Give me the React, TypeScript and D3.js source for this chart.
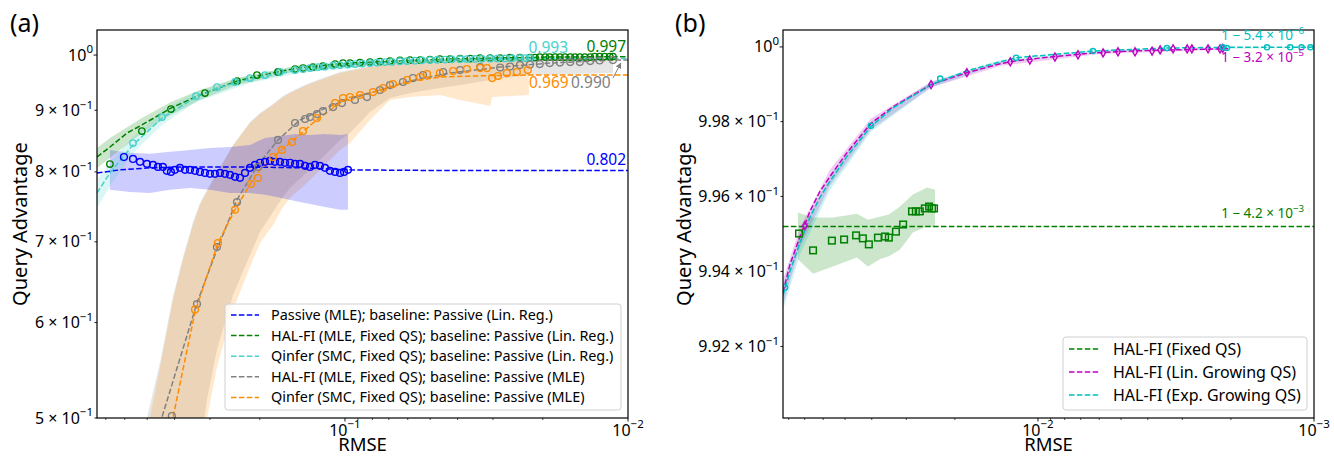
import React from "react";
import * as d3 from "d3";

type P = [number, number];
type B = [number, number, number];

// ================= Panel (a): RMSE vs Query Advantage =================
const passiveMle: P[] = [
  [0.604, 0.823], [0.561, 0.820], [0.530, 0.8155], [0.501, 0.8124], [0.477, 0.8108], [0.458, 0.8077],
  [0.440, 0.8077], [0.426, 0.8016], [0.412, 0.800], [0.399, 0.8031], [0.383, 0.8062], [0.3675, 0.8031],
  [0.353, 0.8031], [0.3388, 0.8016], [0.3254, 0.800], [0.3124, 0.7985], [0.2999, 0.797], [0.288, 0.797],
  [0.2765, 0.7985], [0.2655, 0.797], [0.2549, 0.7955], [0.2447, 0.7925], [0.235, 0.791], [0.2256, 0.7985],
  [0.2166, 0.8062], [0.208, 0.8108], [0.1997, 0.814], [0.1917, 0.8155], [0.1841, 0.817], [0.1767, 0.8155],
  [0.1697, 0.8155], [0.1629, 0.814], [0.1564, 0.814], [0.1501, 0.8124], [0.1442, 0.8124], [0.1384, 0.8093],
  [0.1329, 0.8077], [0.1276, 0.8108], [0.1226, 0.8093], [0.1177, 0.8062], [0.113, 0.8016], [0.1084, 0.800],
  [0.1041, 0.7985], [0.1008, 0.800], [0.0976, 0.8031],
];
const passiveBand: B[] = [
  [0.677, 0.7731, 0.8343], [0.575, 0.7699, 0.8296], [0.489, 0.7685, 0.8281], [0.415, 0.7731, 0.8312],
  [0.353, 0.7757, 0.8343], [0.300, 0.7731, 0.8373], [0.255, 0.7685, 0.8389], [0.2166, 0.7685, 0.8423],
  [0.1917, 0.7658, 0.8535], [0.1697, 0.7613, 0.8568], [0.1501, 0.7569, 0.8601], [0.1329, 0.7524, 0.8585],
  [0.1177, 0.7482, 0.8601], [0.1041, 0.7442, 0.8585], [0.0976, 0.7442, 0.8601],
];
const passiveFit: P[] = [
  [0.752, 0.7983], [0.624, 0.8031], [0.489, 0.8062], [0.383, 0.8075], [0.2166, 0.8075], [0.1442, 0.8062],
  [0.096, 0.8031], [0.05, 0.8022], [0.01, 0.802],
];

const halLinReg: P[] = [
  [0.677, 0.8121], [0.522, 0.8649], [0.412, 0.902], [0.3124, 0.93], [0.2407, 0.9516], [0.2046, 0.9625],
  [0.1724, 0.9681], [0.1501, 0.9736], [0.1407, 0.9755], [0.1297, 0.9773], [0.1196, 0.9792], [0.1084, 0.983],
  [0.1016, 0.9848], [0.096, 0.9848], [0.0885, 0.9858], [0.0816, 0.9867], [0.0752, 0.9877], [0.0693, 0.9886],
  [0.0639, 0.9896], [0.0589, 0.9905], [0.0543, 0.9905], [0.0501, 0.9914], [0.0462, 0.9924], [0.0426, 0.9924],
  [0.0392, 0.9933], [0.0361, 0.9933], [0.0333, 0.9943], [0.0307, 0.9943], [0.0283, 0.9943], [0.0261, 0.9952],
  [0.0241, 0.9952], [0.0222, 0.9952], [0.0213, 0.9952], [0.0205, 0.9962], [0.0196, 0.9962], [0.0189, 0.9962],
  [0.0181, 0.9962], [0.0174, 0.9962], [0.0167, 0.9962], [0.016, 0.9962], [0.0154, 0.9962], [0.0148, 0.9962],
  [0.0142, 0.9962], [0.0136, 0.9962], [0.0131, 0.9971], [0.0126, 0.9971], [0.0121, 0.9971], [0.0116, 0.9971],
  [0.0113, 0.9971],
];
const halLinRegFit: P[] = [
  [0.752, 0.8231], [0.677, 0.8389], [0.589, 0.8616], [0.522, 0.875], [0.412, 0.9037], [0.3254, 0.9265],
  [0.2407, 0.9516], [0.2046, 0.9607], [0.1442, 0.9764], [0.096, 0.9848], [0.0639, 0.9886], [0.0426, 0.9924],
  [0.0283, 0.9943], [0.0189, 0.9962], [0.01, 0.997],
];
const halLinRegBand: B[] = [
  [0.752, 0.8059, 0.8373], [0.677, 0.8215, 0.8535], [0.522, 0.8616, 0.8867], [0.412, 0.8918, 0.9142],
  [0.3254, 0.9177, 0.9354], [0.2407, 0.9443, 0.957], [0.1442, 0.9708, 0.9811], [0.0639, 0.9858, 0.9905],
  [0.0283, 0.9924, 0.9962], [0.0113, 0.9952, 0.9981],
];

const qinferLinReg: P[] = [
  [0.561, 0.8453], [0.443, 0.8883], [0.3361, 0.9247], [0.2834, 0.9407], [0.2447, 0.9498], [0.2166, 0.957],
  [0.1917, 0.9625], [0.1697, 0.9681], [0.1501, 0.9718], [0.1407, 0.9736], [0.1329, 0.9755], [0.1246, 0.9773],
  [0.1177, 0.9783], [0.1102, 0.9802], [0.1041, 0.9811], [0.0976, 0.982], [0.0922, 0.983], [0.087, 0.9839],
  [0.0816, 0.9848], [0.0771, 0.9858], [0.0722, 0.9867], [0.0682, 0.9871], [0.0639, 0.9882], [0.0604, 0.9886],
  [0.0566, 0.9893], [0.0534, 0.9899], [0.0501, 0.9905], [0.0473, 0.9909], [0.0443, 0.9914], [0.0419, 0.9918],
  [0.0392, 0.9922], [0.0371, 0.9924], [0.0347, 0.9926], [0.0328, 0.9928], [0.0307, 0.9931], [0.029, 0.9933],
  [0.0272, 0.9935], [0.0257, 0.9939], [0.0241, 0.9941], [0.0231, 0.9943], [0.0222, 0.9943],
];
const qinferLinRegFit: P[] = [
  [0.752, 0.7685], [0.677, 0.7983], [0.561, 0.8423], [0.443, 0.8867], [0.3361, 0.9229], [0.2834, 0.9389],
  [0.2166, 0.9552], [0.1442, 0.9727], [0.096, 0.982], [0.0639, 0.9877], [0.0426, 0.9905], [0.0222, 0.9933],
  [0.01, 0.9933],
];
const qinferLinRegBand: B[] = [
  [0.752, 0.7467, 0.788], [0.677, 0.7787, 0.8152], [0.561, 0.8294, 0.8551], [0.443, 0.875, 0.8986],
  [0.3361, 0.9142, 0.9318], [0.2166, 0.9479, 0.9625], [0.1442, 0.9662, 0.9792], [0.0639, 0.9839, 0.9914],
  [0.0222, 0.9905, 0.9962],
];

const halMle: P[] = [
  [0.409, 0.5019], [0.3334, 0.6216], [0.2834, 0.6931], [0.2407, 0.7553], [0.2029, 0.8075], [0.1724, 0.8504],
  [0.1501, 0.8783], [0.1384, 0.885], [0.1329, 0.8883], [0.1256, 0.8935], [0.1196, 0.8986], [0.1102, 0.9055],
  [0.1025, 0.9124], [0.0922, 0.9177], [0.0836, 0.9229], [0.0752, 0.9354], [0.0693, 0.9443], [0.0624, 0.9498],
  [0.0575, 0.957], [0.053, 0.9625], [0.045, 0.9681], [0.0392, 0.9718], [0.0333, 0.9773], [0.0283, 0.9764],
  [0.0261, 0.9783], [0.0241, 0.9811], [0.0222, 0.982], [0.0205, 0.983], [0.0189, 0.9848], [0.0174, 0.9858],
  [0.016, 0.9867], [0.0148, 0.9867], [0.0136, 0.9886], [0.0126, 0.9896], [0.0113, 0.9905],
];
const halMleFit: P[] = [
  [0.458, 0.4795], [0.443, 0.501], [0.3334, 0.6228], [0.2834, 0.6896], [0.2407, 0.7585], [0.2029, 0.8108],
  [0.1724, 0.8504], [0.1442, 0.8834], [0.113, 0.9072], [0.096, 0.9194], [0.0752, 0.9354], [0.0589, 0.9516],
  [0.0426, 0.9662], [0.0283, 0.9773], [0.0189, 0.9848], [0.0113, 0.9905], [0.01, 0.9905],
];
const halMleBand: B[] = [
  [0.501, 0.29, 0.5], [0.45, 0.29, 0.5564], [0.405, 0.29, 0.6312], [0.3735, 0.29, 0.68], [0.3444, 0.29, 0.727],
  [0.3254, 0.4704, 0.7538], [0.3073, 0.5183, 0.7731], [0.2834, 0.57, 0.8], [0.2487, 0.6324, 0.8423],
  [0.2166, 0.6826, 0.8799], [0.1997, 0.7132, 0.8952], [0.1796, 0.741, 0.9107], [0.1656, 0.7625, 0.9247],
  [0.1564, 0.7758, 0.9318], [0.1362, 0.8, 0.9461], [0.1196, 0.8231, 0.957], [0.1041, 0.8504, 0.9681],
  [0.096, 0.8616, 0.9718], [0.0816, 0.8969, 0.9792], [0.0693, 0.9212, 0.9848], [0.0589, 0.93, 0.9867],
  [0.0462, 0.9389, 0.9905], [0.0392, 0.9443, 0.9924], [0.0307, 0.9534, 0.9943], [0.0222, 0.9625, 0.9943],
  [0.016, 0.9644, 0.9943], [0.0113, 0.9662, 0.9943],
];

const qinferMle: P[] = [
  [0.3388, 0.6151], [0.2811, 0.6984], [0.2447, 0.7442], [0.2149, 0.7817], [0.2029, 0.7907], [0.1796, 0.8231],
  [0.1669, 0.8343], [0.1539, 0.847], [0.1407, 0.8649], [0.1256, 0.8867], [0.1084, 0.9124], [0.1016, 0.9212],
  [0.096, 0.9229], [0.0885, 0.9265], [0.0796, 0.9318], [0.0734, 0.9389], [0.0677, 0.9461], [0.0604, 0.9534],
  [0.0543, 0.9589], [0.0513, 0.9644], [0.0462, 0.9662], [0.0415, 0.9699], [0.0371, 0.9736], [0.0333, 0.9755],
  [0.0315, 0.9755], [0.0302, 0.957], [0.0288, 0.9607], [0.0268, 0.9662], [0.0247, 0.9681], [0.0226, 0.9718],
];
const qinferMleFit: P[] = [
  [0.422, 0.4795], [0.405, 0.501], [0.3388, 0.6122], [0.2811, 0.6984], [0.2447, 0.7442], [0.2046, 0.7983],
  [0.1796, 0.8231], [0.1477, 0.8551], [0.1297, 0.8783], [0.113, 0.9004], [0.0984, 0.9212], [0.0796, 0.9318],
  [0.0604, 0.9498], [0.0462, 0.9589], [0.0307, 0.9616], [0.0222, 0.9625], [0.01, 0.9625],
];
const qinferMleBand: B[] = [
  [0.489, 0.29, 0.5], [0.45, 0.29, 0.5512], [0.405, 0.29, 0.627], [0.3735, 0.29, 0.6766], [0.3444, 0.29, 0.7228],
  [0.3254, 0.29, 0.751], [0.3073, 0.5, 0.7699], [0.2834, 0.5512, 0.7968], [0.2487, 0.6151, 0.8405],
  [0.2166, 0.6671, 0.8783], [0.1997, 0.6984, 0.8935], [0.1796, 0.7228, 0.909], [0.1656, 0.7482, 0.9229],
  [0.1564, 0.7613, 0.93], [0.1362, 0.7832, 0.9443], [0.1196, 0.8075, 0.9552], [0.1041, 0.8343, 0.9662],
  [0.096, 0.8453, 0.9699], [0.0816, 0.8834, 0.9773], [0.0693, 0.9177, 0.983], [0.0589, 0.9229, 0.9867],
  [0.0462, 0.9265, 0.9905], [0.0392, 0.9177, 0.9924], [0.0307, 0.9072, 0.9943], [0.0302, 0.9229, 0.9943],
  [0.0261, 0.9247, 0.9952], [0.0224, 0.9265, 0.9962],
];

const legendA = [
  "Passive (MLE); baseline: Passive (Lin. Reg.)",
  "HAL-FI (MLE, Fixed QS); baseline: Passive (Lin. Reg.)",
  "Qinfer (SMC, Fixed QS); baseline: Passive (Lin. Reg.)",
  "HAL-FI (MLE, Fixed QS); baseline: Passive (MLE)",
  "Qinfer (SMC, Fixed QS); baseline: Passive (MLE)",
];
const yTicksA = [1.0, 0.9, 0.8, 0.7, 0.6, 0.5];
const yTickLabelsA: [string, string][] = [["10", "0"], ["9 × 10", "−1"], ["8 × 10", "−1"], ["7 × 10", "−1"], ["6 × 10", "−1"], ["5 × 10", "−1"]];
const xMajorA = [0.1, 0.01];
const xMajorLabelsA: [string, string][] = [["10", "−1"], ["10", "−2"]];
const xMinorA = [0.7, 0.6, 0.5, 0.4, 0.3, 0.2, 0.09, 0.08, 0.07, 0.06, 0.05, 0.04, 0.03, 0.02];

// ================= Panel (b) =================
const halFixed: P[] = [
  [0.0734, 0.99501], [0.0653, 0.99456], [0.0558, 0.99482], [0.0504, 0.99485], [0.0456, 0.99496], [0.0431, 0.99488],
  [0.041, 0.99472], [0.038, 0.9949], [0.0358, 0.99493], [0.0347, 0.9949], [0.0327, 0.99506], [0.0308, 0.99525],
  [0.0286, 0.9956], [0.0277, 0.9956], [0.0268, 0.9956], [0.0257, 0.99568], [0.0248, 0.99573], [0.0242, 0.99568],
  [0.0238, 0.99568],
];
const halFixedBand: B[] = [
  [0.0741, 0.99432, 0.99557], [0.0653, 0.99394, 0.99544], [0.0553, 0.99413, 0.99544], [0.0453, 0.99437, 0.99554],
  [0.0413, 0.99413, 0.99538], [0.0374, 0.99432, 0.99546], [0.0347, 0.9944, 0.99552], [0.0316, 0.99458, 0.99573],
  [0.0284, 0.99504, 0.99605], [0.0252, 0.9952, 0.99624], [0.0236, 0.99517, 0.99618],
];
const halFixedFit: P[] = [[0.0839, 0.9952], [0.001, 0.9952]];

const halLinGrow: P[] = [
  [0.0699, 0.99522], [0.0244, 0.99899], [0.0181, 0.99931], [0.0126, 0.9996], [0.0107, 0.99965], [0.00868, 0.99973],
  [0.00716, 0.99979], [0.00581, 0.99984], [0.00513, 0.99987], [0.00445, 0.99987], [0.00386, 0.99989],
  [0.00361, 0.99992], [0.00324, 0.99995], [0.00288, 0.99995], [0.00277, 0.99995], [0.00242, 0.99995],
  [0.00219, 0.99995], [0.00214, 0.99996],
];
const halLinGrowFit: P[] = [
  [0.0839, 0.99344], [0.0792, 0.99418], [0.0728, 0.99493], [0.067, 0.9956], [0.0617, 0.99613], [0.0567, 0.99653],
  [0.0492, 0.99717], [0.0403, 0.99795], [0.0335, 0.9984], [0.0244, 0.99899], [0.0181, 0.99931], [0.0137, 0.99955],
  [0.012, 0.99963], [0.00905, 0.99973], [0.00632, 0.99984], [0.00464, 0.99989], [0.00341, 0.99992], [0.00205, 0.99995],
];
const halLinGrowBand: B[] = [
  [0.0839, 0.99312, 0.99378], [0.0728, 0.99464, 0.99517], [0.0567, 0.99629, 0.99672], [0.0403, 0.99779, 0.99808],
  [0.0244, 0.99891, 0.99907], [0.0137, 0.99949, 0.9996], [0.00596, 0.99981, 0.99987], [0.00205, 0.99993, 0.99996],
];

const halExpGrow: P[] = [
  [0.0825, 0.99357], [0.0403, 0.99789], [0.0226, 0.99915], [0.012, 0.99971], [0.00632, 0.99989], [0.00341, 0.99997],
  [0.00214, 0.99999], [0.00207, 0.99997], [0.00148, 0.99999], [0.00122, 0.99999], [0.00111, 0.99999], [0.00103, 0.99999],
];
const halExpGrowFit: P[] = [
  [0.0839, 0.99336], [0.0792, 0.994], [0.0728, 0.99477], [0.067, 0.99544], [0.0617, 0.99597], [0.0567, 0.9964],
  [0.0492, 0.99707], [0.0403, 0.99787], [0.0335, 0.99837], [0.0244, 0.99899], [0.0181, 0.99936], [0.0137, 0.9996],
  [0.012, 0.99971], [0.00905, 0.99979], [0.00632, 0.99989], [0.00464, 0.99993], [0.00341, 0.99997],
  [0.00205, 0.99999], [0.001, 0.999995],
];
const halExpGrowBand: B[] = [
  [0.0839, 0.99298, 0.99365], [0.0728, 0.99445, 0.99498], [0.0567, 0.99618, 0.99658], [0.0403, 0.99773, 0.998],
  [0.0244, 0.99891, 0.99907], [0.0137, 0.99955, 0.99965], [0.00596, 0.99987, 0.99992], [0.001, 0.999992, 1.000005],
];

const legendB = ["HAL-FI (Fixed QS)", "HAL-FI (Lin. Growing QS)", "HAL-FI (Exp. Growing QS)"];
const yTicksB = [1.0, 0.998, 0.996, 0.994, 0.992];
const yTickLabelsB: [string, string][] = [["10", "0"], ["9.98 × 10", "−1"], ["9.96 × 10", "−1"], ["9.94 × 10", "−1"], ["9.92 × 10", "−1"]];
const xMajorB = [0.01, 0.001];
const xMajorLabelsB: [string, string][] = [["10", "−2"], ["10", "−3"]];
const xMinorB = [0.08, 0.07, 0.06, 0.05, 0.04, 0.03, 0.02, 0.009, 0.008, 0.007, 0.006, 0.005, 0.004, 0.003, 0.002];

// ================= Styling =================
const FONT = "'Noto Sans', 'DejaVu Sans', sans-serif";
const DASH = "5.5,2.4";
const C = {
  blue: "#0000ff", green: "#008000", turq: "#48d1cc", gray: "#808080", orange: "#ff8c00",
  magenta: "#c000c0", cyan: "#00bfbf",
};

function Sup(props: { x: number; y: number; base: string; exp: string; size: number; anchor?: string; color?: string }) {
  const { x, y, base, exp, size, anchor = "start", color = "#000" } = props;
  return (
    <text x={x} y={y} fontSize={size} textAnchor={anchor as any} fill={color} fontFamily={FONT}>
      <tspan>{base}</tspan>
      <tspan dy={-size * 0.45} fontSize={size * 0.72}>{exp}</tspan>
    </text>
  );
}

function Axes(props: {
  x: any; y: any; L: number; R: number; T: number; Bt: number;
  yTicks: number[]; yLabels: [string, string][]; xMajor: number[]; xLabels: [string, string][]; xMinor: number[];
}) {
  const { x, y, L, R, T, Bt, yTicks, yLabels, xMajor, xLabels, xMinor } = props;
  return (
    <g>
      <rect x={L} y={T} width={R - L} height={Bt - T} fill="none" stroke="#000" strokeWidth={1.2} />
      {yTicks.map((t, i) => (
        <g key={"y" + i}>
          <line x1={L} x2={L - (i === 0 ? 3.5 : 2.5)} y1={y(t)} y2={y(t)} stroke="#000" strokeWidth={0.9} />
          <Sup x={L - 4} y={y(t) + 5.5} base={yLabels[i][0]} exp={yLabels[i][1]} size={16} anchor="end" />
        </g>
      ))}
      {xMajor.map((t, i) => (
        <g key={"xm" + i}>
          <line x1={x(t)} x2={x(t)} y1={Bt} y2={Bt + 3.5} stroke="#000" strokeWidth={0.9} />
          <Sup x={x(t)} y={Bt + 17.5} base={xLabels[i][0]} exp={xLabels[i][1]} size={16} anchor="middle" />
        </g>
      ))}
      {xMinor.map((t, i) => (
        <line key={"xn" + i} x1={x(t)} x2={x(t)} y1={Bt} y2={Bt + 2} stroke="#000" strokeWidth={0.7} />
      ))}
    </g>
  );
}

function Circles({ data, x, y, color, r }: { data: P[]; x: any; y: any; color: string; r: number }) {
  return (
    <g>
      {data.map((d, i) => (
        <circle key={i} cx={x(d[0])} cy={y(d[1])} r={r} fill="none" stroke={color} strokeWidth={1.4} />
      ))}
    </g>
  );
}

function PanelA() {
  const L = 97, R = 628, T = 30, Bt = 418;
  const x = d3.scaleLog().domain([0.752, 0.01]).range([L, R]);
  const y = d3.scaleLog().domain([0.5, 1.049]).range([Bt, T]);
  const line = d3.line<P>().x((d) => x(d[0])).y((d) => y(d[1]));
  const area = d3.area<B>().x((d) => x(d[0])).y0((d) => y(d[1])).y1((d) => y(d[2]));
  const legendColors = [C.blue, C.green, C.turq, C.gray, C.orange];
  return (
    <g>
      <defs>
        <clipPath id="clipA"><rect x={L} y={T} width={R - L} height={Bt - T} /></clipPath>
        <marker id="arrowG" viewBox="0 0 10 10" refX="9" refY="5" markerWidth="6" markerHeight="6" orient="auto">
          <path d="M0,0 L10,5 L0,10 z" fill={C.gray} />
        </marker>
      </defs>
      <g clipPath="url(#clipA)">
        <path d={area(halMleBand)!} fill={C.gray} fillOpacity={0.2} />
        <path d={area(qinferMleBand)!} fill={C.orange} fillOpacity={0.2} />
        <path d={area(passiveBand)!} fill={C.blue} fillOpacity={0.2} />
        <path d={area(halLinRegBand)!} fill={C.green} fillOpacity={0.2} />
        <path d={area(qinferLinRegBand)!} fill={C.turq} fillOpacity={0.2} />

        <path d={line(passiveFit)!} fill="none" stroke={C.blue} strokeWidth={1.5} strokeDasharray={DASH} />
        <path d={line(halLinRegFit)!} fill="none" stroke={C.green} strokeWidth={1.5} strokeDasharray={DASH} />
        <path d={line(qinferLinRegFit)!} fill="none" stroke={C.turq} strokeWidth={1.5} strokeDasharray={DASH} />
        <path d={line(halMleFit)!} fill="none" stroke={C.gray} strokeWidth={1.5} strokeDasharray={DASH} />
        <path d={line(qinferMleFit)!} fill="none" stroke={C.orange} strokeWidth={1.5} strokeDasharray={DASH} />

        <Circles data={passiveMle} x={x} y={y} color={C.blue} r={3.4} />
        <Circles data={halLinReg} x={x} y={y} color={C.green} r={3.2} />
        <Circles data={qinferLinReg} x={x} y={y} color={C.turq} r={3.2} />
        <Circles data={halMle} x={x} y={y} color={C.gray} r={3.4} />
        <Circles data={qinferMle} x={x} y={y} color={C.orange} r={3.4} />
      </g>

      <Axes x={x} y={y} L={L} R={R} T={T} Bt={Bt} yTicks={yTicksA} yLabels={yTickLabelsA}
        xMajor={xMajorA} xLabels={xMajorLabelsA} xMinor={xMinorA} />

      {/* end-value annotations */}
      <text x={R - 2} y={y(0.997) - 5} textAnchor="end" fontSize={15.5} fill={C.green} fontFamily={FONT}>0.997</text>
      <text x={568} y={y(0.9933) - 6} textAnchor="end" fontSize={15.5} fill={C.turq} fontFamily={FONT}>0.993</text>
      <text x={R - 2} y={y(0.802) - 6} textAnchor="end" fontSize={15.5} fill={C.blue} fontFamily={FONT}>0.802</text>
      <text x={529} y={y(0.9625) + 13} textAnchor="start" fontSize={15.5} fill={C.orange} fontFamily={FONT}>0.969</text>
      <text x={571} y={y(0.9625) + 13} textAnchor="start" fontSize={15.5} fill={C.gray} fontFamily={FONT}>0.990</text>
      <line x1={x(0.0113)} y1={y(0.9905) + 18} x2={x(0.0106)} y2={y(0.9905) + 3} stroke={C.gray} strokeWidth={1} markerEnd="url(#arrowG)" />

      {/* legend */}
      <rect x={225} y={304} width={396} height={106} rx={3} fill="#fff" fillOpacity={0.8} stroke="#d0d0d0" />
      {legendA.map((s, i) => (
        <g key={i}>
          <line x1={231} x2={259} y1={315 + i * 20.6} y2={315 + i * 20.6} stroke={legendColors[i]} strokeWidth={1.5} strokeDasharray={DASH} />
          <text x={271} y={315 + i * 20.6 + 5} fontSize={14.4} fontFamily={FONT} fill="#000">{s}</text>
        </g>
      ))}

      <text x={(L + R) / 2} y={451} textAnchor="middle" fontSize={18.5} fontFamily={FONT}>RMSE</text>
      <text transform={`translate(27,${(T + Bt) / 2}) rotate(-90)`} textAnchor="middle" fontSize={20} fontFamily={FONT}>Query Advantage</text>
      <text x={10} y={32} fontSize={25} fontFamily={FONT}>(a)</text>
    </g>
  );
}

function PanelB() {
  const L = 783, R = 1314, T = 30, Bt = 418;
  const x = d3.scaleLog().domain([0.0839, 0.001]).range([L, R]);
  const y = d3.scaleLog().domain([0.9901, 1.000454]).range([Bt, T]);
  const line = d3.line<P>().x((d) => x(d[0])).y((d) => y(d[1]));
  const area = d3.area<B>().x((d) => x(d[0])).y0((d) => y(d[1])).y1((d) => y(d[2]));
  const legendColors = [C.green, C.magenta, C.cyan];
  const diamond = (cx: number, cy: number) => `M${cx},${cy - 4} L${cx + 2.3},${cy} L${cx},${cy + 4} L${cx - 2.3},${cy} Z`;
  return (
    <g>
      <defs>
        <clipPath id="clipB"><rect x={L} y={T} width={R - L} height={Bt - T} /></clipPath>
      </defs>
      <g clipPath="url(#clipB)">
        <path d={area(halFixedBand)!} fill={C.green} fillOpacity={0.2} />
        <path d={area(halLinGrowBand)!} fill={C.magenta} fillOpacity={0.2} />
        <path d={area(halExpGrowBand)!} fill={C.cyan} fillOpacity={0.2} />

        <path d={line(halFixedFit)!} fill="none" stroke={C.green} strokeWidth={1.5} strokeDasharray={DASH} />
        <path d={line(halLinGrowFit)!} fill="none" stroke={C.magenta} strokeWidth={1.5} strokeDasharray={DASH} />
        <path d={line(halExpGrowFit)!} fill="none" stroke={C.cyan} strokeWidth={1.5} strokeDasharray={DASH} />

        {halFixed.map((d, i) => (
          <rect key={i} x={x(d[0]) - 3.3} y={y(d[1]) - 3.3} width={6.6} height={6.6} fill="none" stroke={C.green} strokeWidth={1.5} />
        ))}
        {halLinGrow.map((d, i) => (
          <path key={i} d={diamond(x(d[0]), y(d[1]))} fill="none" stroke={C.magenta} strokeWidth={1.4} />
        ))}
        <Circles data={halExpGrow} x={x} y={y} color={C.cyan} r={2.6} />
      </g>

      <Axes x={x} y={y} L={L} R={R} T={T} Bt={Bt} yTicks={yTicksB} yLabels={yTickLabelsB}
        xMajor={xMajorB} xLabels={xMajorLabelsB} xMinor={xMinorB} />

      <Sup x={1304} y={y(1.0) - 7} base="1 − 5.4 × 10" exp="−6" size={13.5} anchor="end" color={C.cyan} />
      <Sup x={1304} y={y(0.99997) + 14} base="1 − 3.2 × 10" exp="−5" size={13.5} anchor="end" color={C.magenta} />
      <Sup x={1304} y={y(0.9952) - 8} base="1 − 4.2 × 10" exp="−3" size={13.5} anchor="end" color={C.green} />

      <rect x={1063} y={337} width={244} height={73} rx={3} fill="#fff" fillOpacity={0.8} stroke="#d0d0d0" />
      {legendB.map((s, i) => (
        <g key={i}>
          <line x1={1069} x2={1099} y1={349 + i * 23} y2={349 + i * 23} stroke={legendColors[i]} strokeWidth={1.5} strokeDasharray={DASH} />
          <text x={1113} y={349 + i * 23 + 5.5} fontSize={16} fontFamily={FONT} fill="#000">{s}</text>
        </g>
      ))}

      <text x={(L + R) / 2} y={451} textAnchor="middle" fontSize={18.5} fontFamily={FONT}>RMSE</text>
      <text transform={`translate(691,${(T + Bt) / 2}) rotate(-90)`} textAnchor="middle" fontSize={20} fontFamily={FONT}>Query Advantage</text>
      <text x={675} y={32} fontSize={25} fontFamily={FONT}>(b)</text>
    </g>
  );
}

export default function App() {
  return (
    <svg width={1334} height={457} style={{ position: "absolute", left: 0, top: 0, background: "#fff" }}>
      <rect width={1334} height={457} fill="#fff" />
      <PanelA />
      <PanelB />
    </svg>
  );
}
